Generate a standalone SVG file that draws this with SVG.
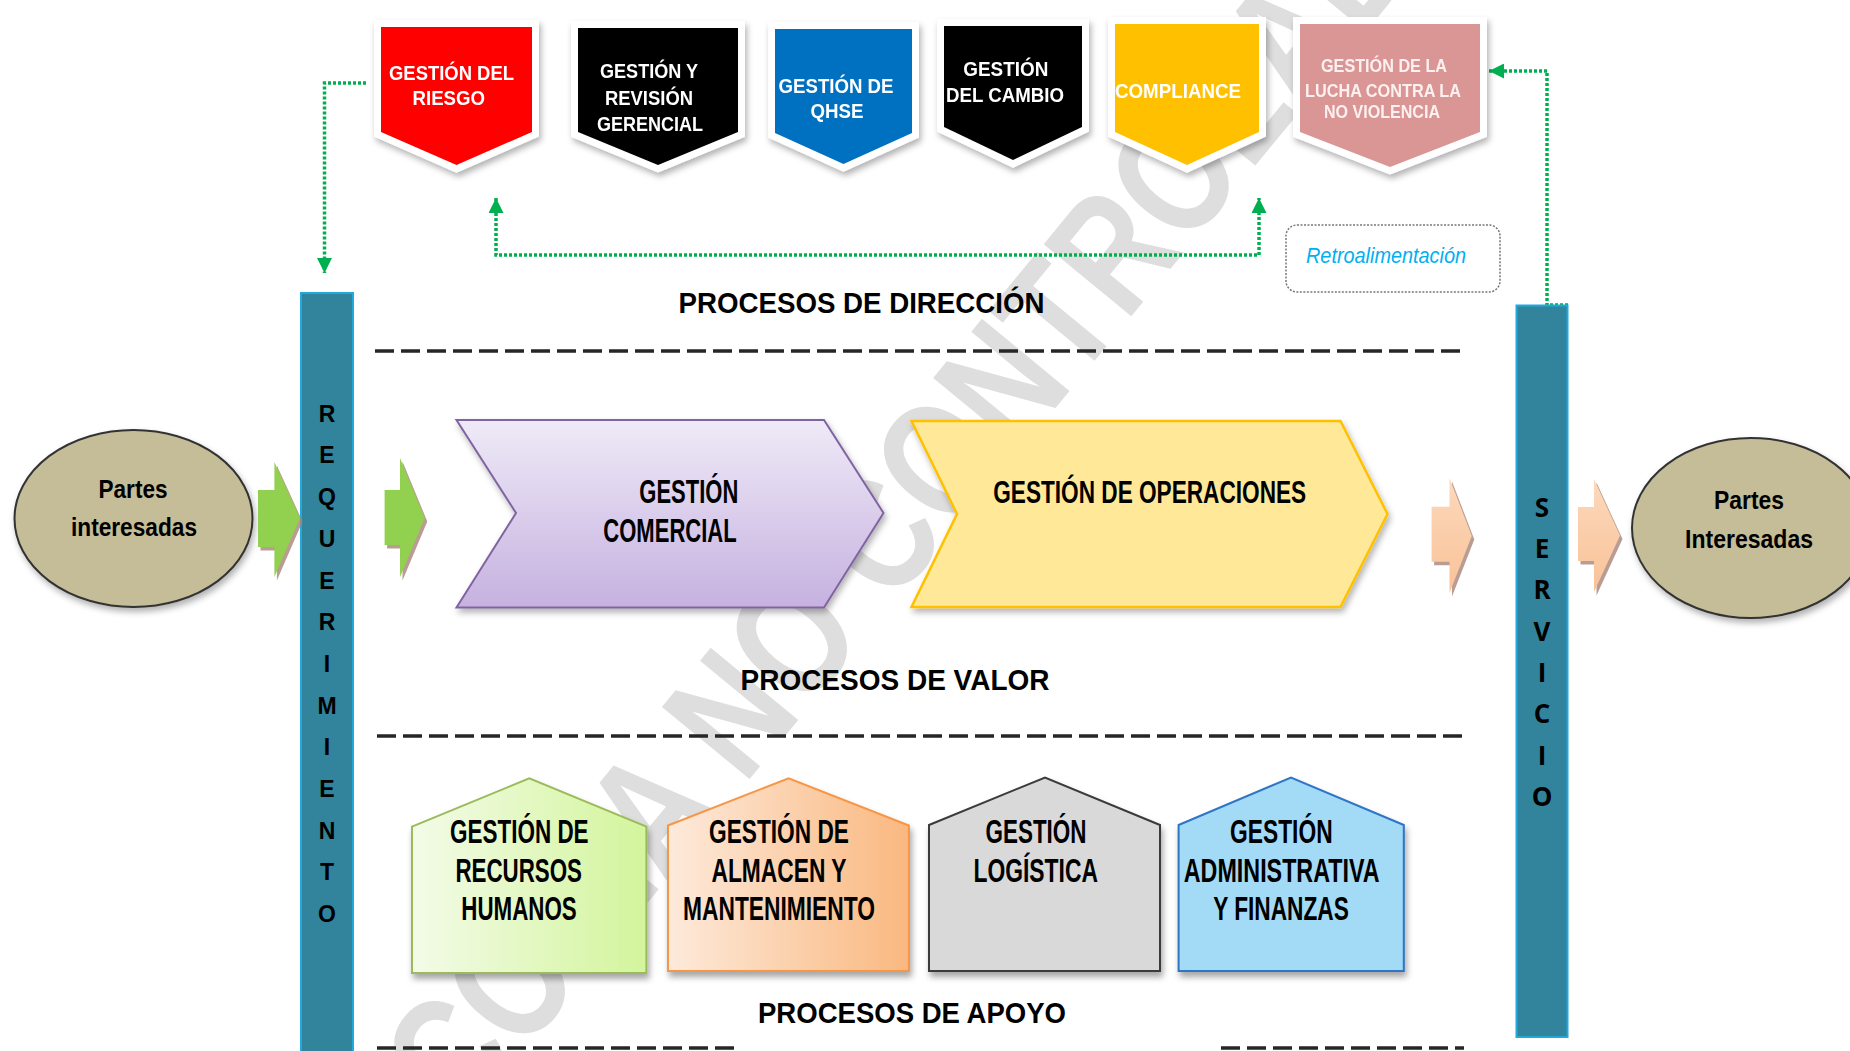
<svg xmlns="http://www.w3.org/2000/svg" width="1850" height="1051" viewBox="0 0 1850 1051">
<defs>
<style>
.t{font-family:"Liberation Sans",Arial,sans-serif;font-weight:bold;text-anchor:middle}
.tb{font-size:20.5px;fill:#fff}
.tp{font-size:17.5px;fill:#fdf0f0}
.tl{font-size:30px;fill:#000}
.tc{font-size:33.5px;fill:#000}
.th{font-size:32.5px;fill:#000}
.tpa{font-size:26px;fill:#000}
.lr{font-family:"Liberation Sans",Arial,sans-serif;font-weight:bold;font-size:23px;text-anchor:middle;fill:#000}
.ls{font-family:"Open Sans","Liberation Sans",sans-serif;font-weight:bold;font-size:26px;text-anchor:middle;fill:#000}
.box{stroke:#fff;stroke-width:14;stroke-linejoin:miter;paint-order:stroke}
.dash{stroke:#262626;stroke-width:3.5;stroke-dasharray:19 7;fill:none}
.dot{stroke:#00B050;stroke-width:3.5;stroke-dasharray:3 2;fill:none}
.bar{fill:#31849B;stroke:#21A9DD;stroke-width:2}
.ell{fill:#C4BD97;stroke:#333;stroke-width:2}
</style>
<filter id="sh" x="-20%" y="-20%" width="140%" height="150%"><feDropShadow dx="2" dy="4" stdDeviation="3" flood-color="#000" flood-opacity="0.3"/></filter>
<filter id="hs" x="-20%" y="-20%" width="140%" height="150%"><feDropShadow dx="2" dy="5" stdDeviation="3" flood-color="#000" flood-opacity="0.35"/></filter>
<linearGradient id="gPur" x1="0" y1="0" x2="0" y2="1"><stop offset="0" stop-color="#EFEAF7"/><stop offset="1" stop-color="#C6B1E0"/></linearGradient>
<linearGradient id="gGrn" x1="0" y1="0" x2="1" y2="0"><stop offset="0" stop-color="#F3FBE8"/><stop offset="1" stop-color="#D3F59C"/></linearGradient>
<linearGradient id="gOra" x1="0" y1="0" x2="1" y2="0"><stop offset="0" stop-color="#FDEADB"/><stop offset="1" stop-color="#FAB880"/></linearGradient>
<linearGradient id="gPch" x1="0" y1="0" x2="0" y2="1"><stop offset="0" stop-color="#FCD9BC"/><stop offset="1" stop-color="#F9C298"/></linearGradient>
<marker id="ah" viewBox="0 0 16 16" refX="16" refY="8" markerWidth="16" markerHeight="15" markerUnits="userSpaceOnUse" orient="auto-start-reverse"><path d="M0,0 L16,8 L0,16 z" fill="#00B050"/></marker>
</defs>
<rect width="1850" height="1051" fill="#fff"/>

<text id="watermark" x="462" y="1128" transform="rotate(-50.5 462 1128)" font-family="Liberation Sans,Arial,sans-serif" font-weight="bold" font-size="165" fill="#DEDEDE" textLength="1600" lengthAdjust="spacingAndGlyphs">COPIA NO CONTROLADA</text>

<g id="connectors">
<path class="dot" d="M366,83 H324.5 V273" marker-end="url(#ah)"/>
<path class="dot" d="M496,198 V255 H1259 V198" marker-start="url(#ah)" marker-end="url(#ah)"/>
<path class="dot" d="M1568,305 H1547 V71 H1489" marker-end="url(#ah)"/>
</g>

<g id="separators">
<line class="dash" x1="375" y1="351" x2="1464" y2="351"/>
<line class="dash" x1="377" y1="736" x2="1464" y2="736"/>
<line class="dash" x1="377" y1="1048" x2="739" y2="1048"/>
<line class="dash" x1="1221" y1="1048" x2="1464" y2="1048"/>
</g>

<g id="riesgo" filter="url(#sh)">
<path class="box" fill="#FF0000" d="M381,27 H532 V132 L456.5,165 L381,132 Z"/>
<text class="t tb" x="451.5" y="79.5" textLength="125" lengthAdjust="spacingAndGlyphs">GESTIÓN DEL</text>
<text class="t tb" x="448.8" y="105" textLength="72.5" lengthAdjust="spacingAndGlyphs">RIESGO</text>
</g>
<g id="revision" filter="url(#sh)">
<path class="box" fill="#000" d="M578,28 H738 V132 L658,165 L578,132 Z"/>
<text class="t tb" x="649" y="78.3" textLength="98" lengthAdjust="spacingAndGlyphs">GESTIÓN Y</text>
<text class="t tb" x="649" y="105" textLength="88" lengthAdjust="spacingAndGlyphs">REVISIÓN</text>
<text class="t tb" x="650" y="130.7" textLength="106" lengthAdjust="spacingAndGlyphs">GERENCIAL</text>
</g>
<g id="qhse" filter="url(#sh)">
<path class="box" fill="#0070C0" d="M775,29 H912 V133 L843.5,164 L775,133 Z"/>
<text class="t tb" x="836" y="93" textLength="115" lengthAdjust="spacingAndGlyphs">GESTIÓN DE</text>
<text class="t tb" x="837" y="118.3" textLength="53" lengthAdjust="spacingAndGlyphs">QHSE</text>
</g>
<g id="cambio" filter="url(#sh)">
<path class="box" fill="#000" d="M944,26 H1082 V127 L1013,160 L944,127 Z"/>
<text class="t tb" x="1005.8" y="76" textLength="85" lengthAdjust="spacingAndGlyphs">GESTIÓN</text>
<text class="t tb" x="1005" y="102" textLength="118" lengthAdjust="spacingAndGlyphs">DEL CAMBIO</text>
</g>
<g id="compliance" filter="url(#sh)">
<path class="box" fill="#FFC000" d="M1115,24 H1259 V132 L1187,165 L1115,132 Z"/>
<text class="t tb" x="1178" y="98" textLength="126" lengthAdjust="spacingAndGlyphs">COMPLIANCE</text>
</g>
<g id="noviolencia" filter="url(#sh)">
<path class="box" fill="#D99694" d="M1300,24 H1480 V132 L1390,167 L1300,132 Z"/>
<text class="t tp" x="1384" y="72" textLength="126" lengthAdjust="spacingAndGlyphs">GESTIÓN DE LA</text>
<text class="t tp" x="1383" y="97" textLength="156" lengthAdjust="spacingAndGlyphs">LUCHA CONTRA LA</text>
<text class="t tp" x="1382" y="118" textLength="116" lengthAdjust="spacingAndGlyphs">NO VIOLENCIA</text>
</g>

<g id="retroalimentacion">
<rect x="1286" y="225" width="214" height="67" rx="11" fill="#fff" stroke="#777" stroke-width="1.5" stroke-dasharray="2 1.5"/>
<text x="1386" y="263" font-family="Liberation Sans,Arial,sans-serif" font-style="italic" font-size="22" text-anchor="middle" fill="#00B0F0" textLength="160" lengthAdjust="spacingAndGlyphs">Retroalimentación</text>
</g>

<g id="labels">
<text class="t tl" x="861.5" y="313" textLength="366" lengthAdjust="spacingAndGlyphs">PROCESOS DE DIRECCIÓN</text>
<text class="t tl" x="895" y="690" textLength="309" lengthAdjust="spacingAndGlyphs">PROCESOS DE VALOR</text>
<text class="t tl" x="912" y="1023" textLength="308" lengthAdjust="spacingAndGlyphs">PROCESOS DE APOYO</text>
</g>

<g id="partes-in">
<ellipse class="ell" cx="133.5" cy="518.5" rx="119" ry="88.5" filter="url(#sh)"/>
<text class="t tpa" x="133" y="498" textLength="69" lengthAdjust="spacingAndGlyphs">Partes</text>
<text class="t tpa" x="134" y="536" textLength="126" lengthAdjust="spacingAndGlyphs">interesadas</text>
</g>
<g id="partes-out">
<ellipse class="ell" cx="1751" cy="528" rx="119" ry="90" filter="url(#sh)"/>
<text class="t tpa" x="1749" y="509" textLength="70" lengthAdjust="spacingAndGlyphs">Partes</text>
<text class="t tpa" x="1749" y="548" textLength="128" lengthAdjust="spacingAndGlyphs">Interesadas</text>
</g>

<g id="requerimiento">
<rect class="bar" x="301" y="293" width="52" height="770"/>
<text class="lr" x="327" y="421.7">R</text>
<text class="lr" x="327" y="463.4">E</text>
<text class="lr" x="327" y="505.1">Q</text>
<text class="lr" x="327" y="546.8">U</text>
<text class="lr" x="327" y="588.5">E</text>
<text class="lr" x="327" y="630.2">R</text>
<text class="lr" x="327" y="671.9">I</text>
<text class="lr" x="327" y="713.6">M</text>
<text class="lr" x="327" y="755.3">I</text>
<text class="lr" x="327" y="797">E</text>
<text class="lr" x="327" y="838.7">N</text>
<text class="lr" x="327" y="880.4">T</text>
<text class="lr" x="327" y="922.1">O</text>
</g>
<g id="servicio">
<rect class="bar" x="1516.5" y="305.5" width="51" height="731.5"/>
<text class="ls" x="1542" y="516.7">S</text>
<text class="ls" x="1542" y="558">E</text>
<text class="ls" x="1542" y="599.3">R</text>
<text class="ls" x="1542" y="640.6">V</text>
<text class="ls" x="1542" y="681.9">I</text>
<text class="ls" x="1542" y="723.2">C</text>
<text class="ls" x="1542" y="764.5">I</text>
<text class="ls" x="1542" y="805.8">O</text>
</g>

<g id="flow-arrows">
<g transform="translate(2.5,3.5)" fill="#A88478" opacity="0.8">
<polygon points="258,490 274.4,490 274.4,462 300,518 274.4,577 274.4,547 258,547"/>
<polygon points="384.6,490 400,490 400,458 424.8,518 400,577 400,545 384.6,545"/>
<polygon points="1431.6,506.7 1449.5,506.7 1449.5,478 1471.8,536 1449.5,593 1449.5,561.7 1431.6,561.7"/>
<polygon points="1578,507 1594,507 1594,479 1620,535.6 1594,592 1594,561 1578,561"/>
</g>
<polygon fill="#92D050" points="258,490 274.4,490 274.4,462 300,518 274.4,577 274.4,547 258,547"/>
<polygon fill="#92D050" points="384.6,490 400,490 400,458 424.8,518 400,577 400,545 384.6,545"/>
<polygon fill="url(#gPch)" points="1431.6,506.7 1449.5,506.7 1449.5,478 1471.8,536 1449.5,593 1449.5,561.7 1431.6,561.7"/>
<polygon fill="url(#gPch)" points="1578,507 1594,507 1594,479 1620,535.6 1594,592 1594,561 1578,561"/>
</g>

<g id="comercial">
<polygon fill="url(#gPur)" stroke="#8064A2" stroke-width="2" filter="url(#sh)" points="456.5,420 824,420 883.5,513 824,607.5 456.5,607.5 516,513"/>
<text class="t tc" x="688.8" y="503" textLength="99" lengthAdjust="spacingAndGlyphs">GESTIÓN</text>
<text class="t tc" x="670" y="541.7" textLength="133.4" lengthAdjust="spacingAndGlyphs">COMERCIAL</text>
</g>
<g id="operaciones">
<polygon fill="#FFE999" stroke="#FFC000" stroke-width="2.5" filter="url(#sh)" points="911.5,421 1340.5,421 1387.5,514 1340.5,607 911.5,607 957,514"/>
<text class="t" font-size="31" x="1149.7" y="503" textLength="313" lengthAdjust="spacingAndGlyphs">GESTIÓN DE OPERACIONES</text>
</g>

<g id="rrhh">
<polygon fill="url(#gGrn)" stroke="#9BBB59" stroke-width="2" filter="url(#hs)" points="412,826.7 529.3,778.3 646.4,826.7 646.4,973 412,973"/>
<text class="t th" x="519.3" y="843.3" textLength="138.6" lengthAdjust="spacingAndGlyphs">GESTIÓN DE</text>
<text class="t th" x="518.7" y="881.7" textLength="126.6" lengthAdjust="spacingAndGlyphs">RECURSOS</text>
<text class="t th" x="519" y="920" textLength="115.4" lengthAdjust="spacingAndGlyphs">HUMANOS</text>
</g>
<g id="almacen">
<polygon fill="url(#gOra)" stroke="#F79646" stroke-width="2" filter="url(#hs)" points="668,825.5 788.6,778.3 908.9,825.5 908.9,971 668,971"/>
<text class="t th" x="779" y="843.3" textLength="140" lengthAdjust="spacingAndGlyphs">GESTIÓN DE</text>
<text class="t th" x="779" y="881.7" textLength="135" lengthAdjust="spacingAndGlyphs">ALMACEN Y</text>
<text class="t th" x="779" y="920" textLength="192" lengthAdjust="spacingAndGlyphs">MANTENIMIENTO</text>
</g>
<g id="logistica">
<polygon fill="#D9D9D9" stroke="#3A3A3A" stroke-width="2" filter="url(#hs)" points="929,825 1045,777.5 1160,825 1160,971 929,971"/>
<text class="t th" x="1036" y="843.3" textLength="101" lengthAdjust="spacingAndGlyphs">GESTIÓN</text>
<text class="t th" x="1035.7" y="881.7" textLength="124.5" lengthAdjust="spacingAndGlyphs">LOGÍSTICA</text>
</g>
<g id="administrativa">
<polygon fill="#A3DBF7" stroke="#2E75C6" stroke-width="2" filter="url(#hs)" points="1178.6,825 1291,777.5 1403.8,825 1403.8,971 1178.6,971"/>
<text class="t th" x="1281.3" y="843.3" textLength="102.6" lengthAdjust="spacingAndGlyphs">GESTIÓN</text>
<text class="t th" x="1281.7" y="881.7" textLength="195.8" lengthAdjust="spacingAndGlyphs">ADMINISTRATIVA</text>
<text class="t th" x="1281" y="920" textLength="135.7" lengthAdjust="spacingAndGlyphs">Y FINANZAS</text>
</g>
</svg>
